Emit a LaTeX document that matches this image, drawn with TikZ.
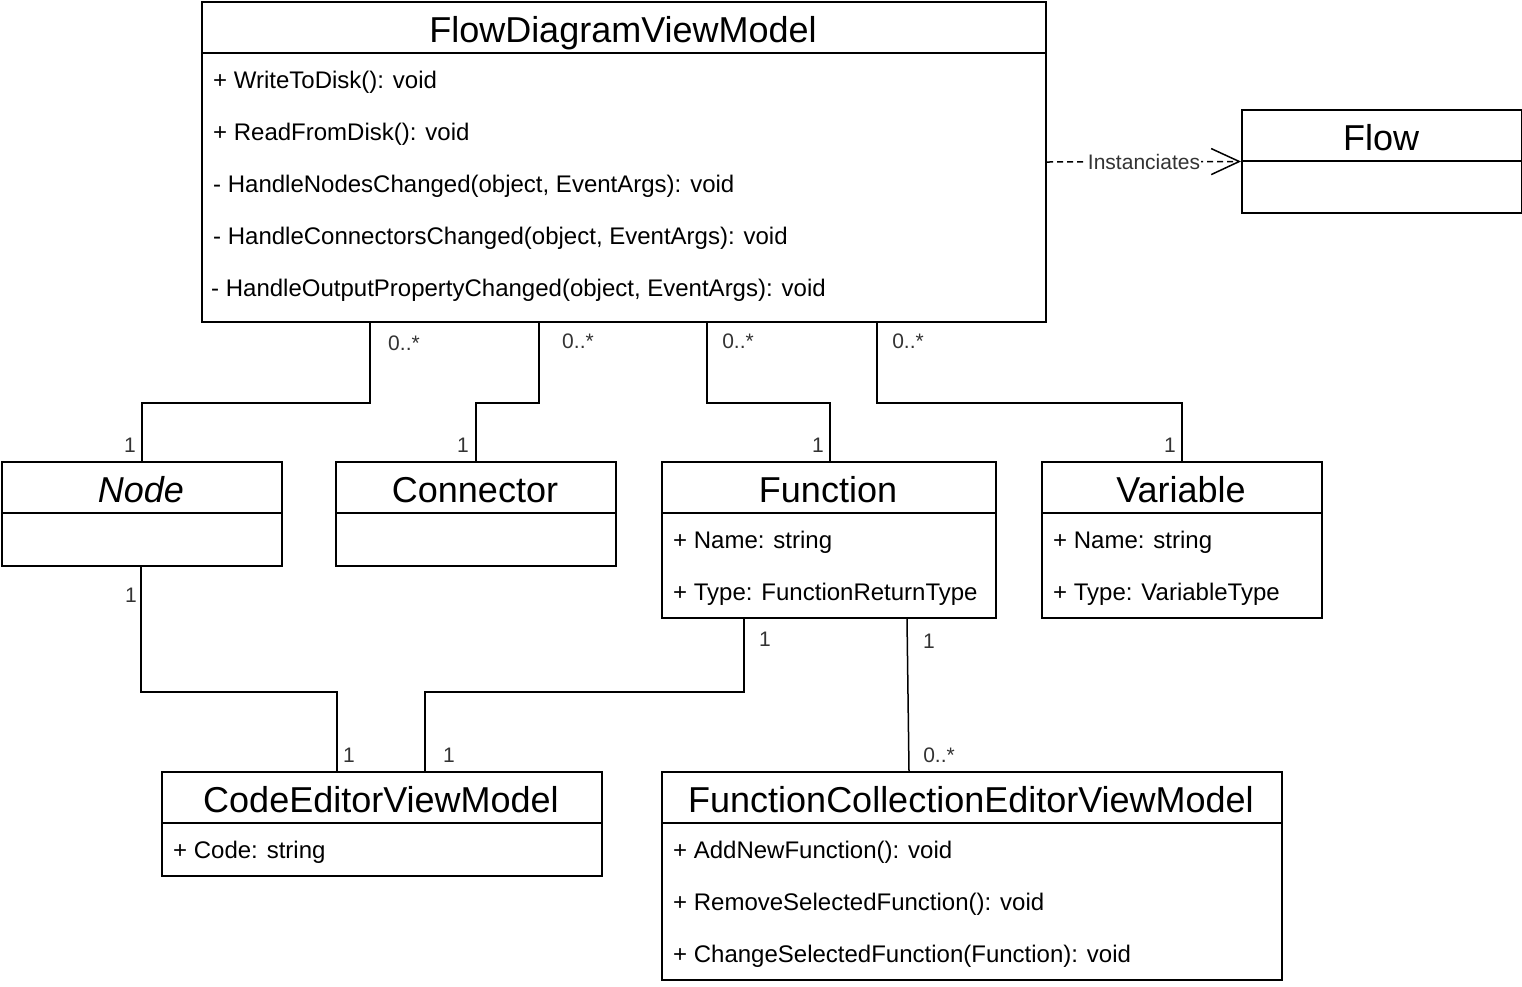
\documentclass[tikz,border=0pt]{standalone}
\usepackage{fontspec}
\setmainfont{Liberation Sans}
\usetikzlibrary{arrows.meta}
\tikzset{
  cls/.style={draw, line width=2pt, inner sep=0pt, anchor=north west},
  ttl/.style={font=\fontsize{36}{40}\selectfont, text height=26pt, text depth=0pt, inner sep=0pt},
  mem/.style={font=\fontsize{24}{28}\selectfont, text height=17pt, text depth=0pt, inner sep=0pt, anchor=west},
  lbl/.style={font=\fontsize{21}{24}\selectfont, text height=15pt, text depth=0pt, inner sep=0pt, text=black!80},
  assoc/.style={line width=1.5pt},
  dep/.style={line width=1.5pt, dash pattern=on 6pt off 4pt, -{Straight Barb[length=28pt,width=26pt,line width=1.5pt]}},
  divider/.style={line width=2pt},
}
\begin{document}
\begin{tikzpicture}[x=1pt,y=-1pt]
\useasboundingbox (0,0) rectangle (1522,986);

% FlowDiagramViewModel
\node[cls, minimum width=844pt, minimum height=320pt] (fdvm) at (201,1) {};
\draw[divider] ([yshift=-52pt]fdvm.north west) -- ([yshift=-52pt]fdvm.north east);
\node[ttl] (fdvmT) at (623,29) {FlowDiagramViewModel};
\node[mem] (fdvm1) at (213,80) {+ WriteToDisk(): void};
\node[mem] (fdvm2) at (213,132) {+ ReadFromDisk(): void};
\node[mem] (fdvm3) at (213,184) {- HandleNodesChanged(object, EventArgs): void};
\node[mem] (fdvm4) at (213,236) {- HandleConnectorsChanged(object, EventArgs): void};
\node[mem] (fdvm5) at (211,288) {- HandleOutputPropertyChanged(object, EventArgs): void};

% Flow
\node[cls, minimum width=280pt, minimum height=103pt] (fl) at (1241,109) {};
\draw[divider] ([yshift=-52pt]fl.north west) -- ([yshift=-52pt]fl.north east);
\node[ttl] (flT) at (1381,137) {Flow};

% Node
\node[cls, minimum width=280pt, minimum height=104pt] (nd) at (1,461) {};
\draw[divider] ([yshift=-52pt]nd.north west) -- ([yshift=-52pt]nd.north east);
\node[ttl, font=\fontsize{36}{40}\selectfont\itshape] (ndT) at (141,489) {Node};

% Connector
\node[cls, minimum width=280pt, minimum height=104pt] (cn) at (335,461) {};
\draw[divider] ([yshift=-52pt]cn.north west) -- ([yshift=-52pt]cn.north east);
\node[ttl] (cnT) at (475,489) {Connector};

% Function
\node[cls, minimum width=334pt, minimum height=156pt] (fn) at (661,461) {};
\draw[divider] ([yshift=-52pt]fn.north west) -- ([yshift=-52pt]fn.north east);
\node[ttl] (fnT) at (828,489) {Function};
\node[mem] (fn1) at (673,540) {+ Name: string};
\node[mem] (fn2) at (673,592) {+ Type: FunctionReturnType};

% Variable
\node[cls, minimum width=280pt, minimum height=156pt] (vr) at (1041,461) {};
\draw[divider] ([yshift=-52pt]vr.north west) -- ([yshift=-52pt]vr.north east);
\node[ttl] (vrT) at (1181,489) {Variable};
\node[mem] (vr1) at (1053,540) {+ Name: string};
\node[mem] (vr2) at (1053,592) {+ Type: VariableType};

% CodeEditorViewModel
\node[cls, minimum width=440pt, minimum height=104pt] (ce) at (161,771) {};
\draw[divider] ([yshift=-52pt]ce.north west) -- ([yshift=-52pt]ce.north east);
\node[ttl] (ceT) at (381,799) {CodeEditorViewModel};
\node[mem] (ce1) at (173,850) {+ Code: string};

% FunctionCollectionEditorViewModel
\node[cls, minimum width=620pt, minimum height=208pt] (fc) at (661,771) {};
\draw[divider] ([yshift=-52pt]fc.north west) -- ([yshift=-52pt]fc.north east);
\node[ttl] (fcT) at (971,799) {FunctionCollectionEditorViewModel};
\node[mem] (fc1) at (673,850) {+ AddNewFunction(): void};
\node[mem] (fc2) at (673,902) {+ RemoveSelectedFunction(): void};
\node[mem] (fc3) at (673,954) {+ ChangeSelectedFunction(Function): void};

% Associations
\draw[assoc] ([xshift=169pt]fdvm.south west) -- ++(0,80) -| (nd.north);
\draw[assoc] ([xshift=338pt]fdvm.south west) -- ++(0,80) -| (cn.north);
\draw[assoc] ([xshift=506pt]fdvm.south west) -- ++(0,80) -| ([xshift=1pt]fn.north);
\draw[assoc] ([xshift=676pt]fdvm.south west) -- ++(0,80) -| (vr.north);
\draw[assoc] ([xshift=-1pt]nd.south) -- ++(0,125) -| ([xshift=176pt]ce.north west);
\draw[assoc] ([xshift=83pt]fn.south west) -- ++(0,73) -| ([xshift=264pt]ce.north west);
\draw[assoc] ([xshift=246pt]fn.south west) -- ([xshift=248pt]fc.north west);

% Dependency
\draw[dep] (fdvm.east) -- (fl.west)
  node[midway, lbl, fill=white, inner xsep=1pt, inner ysep=2pt] (depL) {Instanciates};

% Multiplicities
\node[lbl] (m1a) at (404,343) {0..*};
\node[lbl] (m1b) at (130,445) {1};
\node[lbl] (m2a) at (578,341) {0..*};
\node[lbl] (m2b) at (463,445) {1};
\node[lbl] (m3a) at (738,341) {0..*};
\node[lbl] (m3b) at (818,445) {1};
\node[lbl] (m4a) at (908,341) {0..*};
\node[lbl] (m4b) at (1170,445) {1};
\node[lbl] (m5a) at (131,595) {1};
\node[lbl] (m5b) at (349,755) {1};
\node[lbl] (m6a) at (765,639) {1};
\node[lbl] (m6b) at (449,755) {1};
\node[lbl] (m7a) at (929,641) {1};
\node[lbl] (m7b) at (939,755) {0..*};
\end{tikzpicture}
\end{document}
